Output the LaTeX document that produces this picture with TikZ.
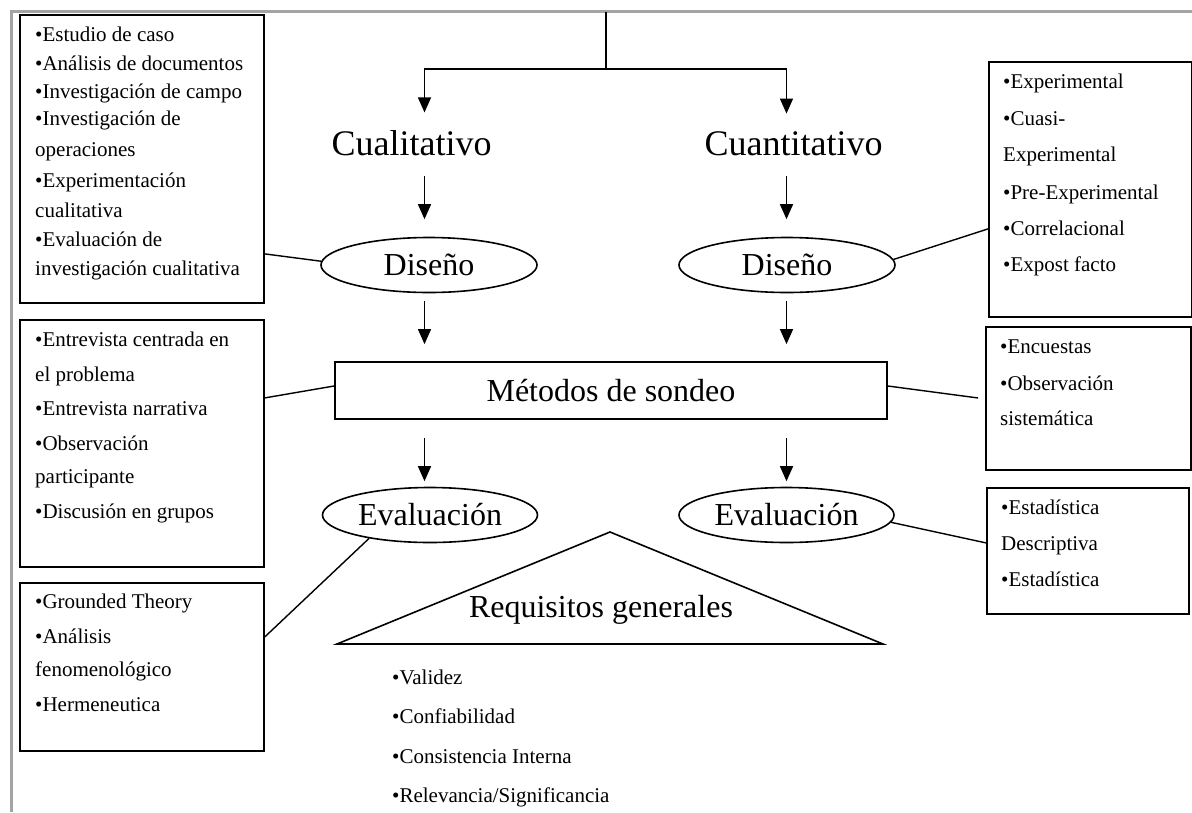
\documentclass[tikz,border=0pt]{standalone}
\usepackage{fontspec}
\setmainfont{Liberation Serif}
\usetikzlibrary{arrows.meta,shapes.geometric}
\begin{document}
\begin{tikzpicture}[x=1pt,y=-1pt,
  pageframe/.style={draw=black!36, line width=3pt},
  boxnode/.style={draw, line width=1.8pt, rectangle, inner sep=0pt, anchor=north west},
  rectnode/.style={draw, line width=1.8pt, rectangle, inner sep=0pt, minimum width=552pt, minimum height=57pt, font=\fontsize{32}{32}\selectfont},
  oval/.style={draw, ellipse, line width=1.6pt, inner sep=0pt, minimum width=216pt, minimum height=55pt, font=\fontsize{32}{32}\selectfont},
  bigtxt/.style={inner sep=0pt, anchor=base, font=\fontsize{36}{36}\selectfont},
  midtxt/.style={inner sep=0pt, anchor=base, font=\fontsize{32}{32}\selectfont},
  listtxt/.style={inner sep=0pt, anchor=base west, font=\fontsize{21}{21}\selectfont},
  conn/.style={line width=1.4pt},
  arr/.style={line width=1.4pt, -{Triangle[length=15pt,width=13pt]}}
]
\useasboundingbox (0,0) rectangle (1192,812);
\fill[white] (0,0) rectangle (1192,812);

% page frame
\draw[pageframe] (11,812) -- (11,11) -- (1192,11);

% boxes
\node[boxnode, minimum width=244pt, minimum height=288pt] (tl) at (19,14) {};
\node[boxnode, minimum width=203pt, minimum height=255pt] (tr) at (988,61) {};
\node[boxnode, minimum width=244pt, minimum height=247pt] (ml) at (19,319) {};
\node[boxnode, minimum width=205pt, minimum height=143pt] (mr) at (985,326) {};
\node[boxnode, minimum width=202pt, minimum height=126pt] (br) at (986,487) {};
\node[boxnode, minimum width=244pt, minimum height=168pt] (bl) at (19,582) {};

% box texts
\foreach \yy/\lbl in {41/{\textbullet Estudio de caso},70/{\textbullet Análisis de documentos},98/{\textbullet Investigación de campo},125/{\textbullet Investigación de},156/{operaciones},187/{\textbullet Experimentación},217/{cualitativa},246/{\textbullet Evaluación de},275/{investigación cualitativa}}
  \node[listtxt] at (35,\yy) {\lbl};
\foreach \yy/\lbl in {346/{\textbullet Entrevista centrada en},381/{el problema},415/{\textbullet Entrevista narrativa},450/{\textbullet Observación},483/{participante},518/{\textbullet Discusión en grupos}}
  \node[listtxt] at (35,\yy) {\lbl};
\foreach \yy/\lbl in {608/{\textbullet Grounded Theory},643/{\textbullet Análisis},676/{fenomenológico},711/{\textbullet Hermeneutica}}
  \node[listtxt] at (35,\yy) {\lbl};
\foreach \yy/\lbl in {88/{\textbullet Experimental},125/{\textbullet Cuasi-},161/{Experimental},199/{\textbullet Pre-Experimental},235/{\textbullet Correlacional},271/{\textbullet Expost facto}}
  \node[listtxt] at (1003,\yy) {\lbl};
\foreach \yy/\lbl in {353/{\textbullet Encuestas},390/{\textbullet Observación},425/{sistemática}}
  \node[listtxt] at (1000,\yy) {\lbl};
\foreach \yy/\lbl in {514/{\textbullet Estadística},550/{Descriptiva},586/{\textbullet Estadística}}
  \node[listtxt] at (1001,\yy) {\lbl};

% main nodes
\node[bigtxt] (cual) at (411.5,155) {Cualitativo};
\node[bigtxt] (cuan) at (793.5,155) {Cuantitativo};
\node[oval] (dl) at (429,265) {Diseño};
\node[oval] (dr) at (787,265) {Diseño};
\node[rectnode] (met) at (611,390.5) {Métodos de sondeo};
\node[oval, minimum width=215pt] (el) at (430,515) {Evaluación};
\node[oval, minimum width=215pt] (er) at (786.5,515) {Evaluación};

% triangle
\draw[line width=1.6pt] (337,644) -- (610,532) -- (883,644) -- cycle;
\node[midtxt] (req) at (601,617) {Requisitos generales};
\foreach \yy/\lbl in {684/{\textbullet Validez},723/{\textbullet Confiabilidad},763/{\textbullet Consistencia Interna},802/{\textbullet Relevancia/Significancia}}
  \node[listtxt] at (392,\yy) {\lbl};

% tree
\coordinate (top) at (606,12);
\coordinate (split) at (606,69);
\coordinate (L) at (424.5,0);
\coordinate (R) at (786.5,0);
\draw[conn] (top) -- (split);
\draw[arr, shorten >=17.4pt] (split) -| (L |- cual.north);
\draw[arr, shorten >=17.4pt] (split) -| (R |- cuan.north);

\draw[arr, shorten <=20pt, shorten >=17.5pt] (L |- cual.south) -- (L |- dl.north);
\draw[arr, shorten <=20pt, shorten >=17.5pt] (R |- cuan.south) -- (R |- dr.north);
\draw[arr, shorten <=7.5pt, shorten >=17pt] (L |- dl.south) -- (L |- met.north);
\draw[arr, shorten <=7.5pt, shorten >=17pt] (R |- dr.south) -- (R |- met.north);
\draw[arr, shorten <=18pt, shorten >=5.5pt] (L |- met.south) -- (L |- el.north);
\draw[arr, shorten <=18pt, shorten >=5.5pt] (R |- met.south) -- (R |- er.north);

% side connectors
\draw[conn] ([yshift=-95pt]tl.east) -- (dl.178);
\draw[conn] (dr.3) -- ([yshift=-39.5pt]tr.west);
\draw[conn] ([yshift=45.5pt]ml.east) -- ([yshift=4.5pt]met.west);
\draw[conn, shorten >=7pt] ([yshift=4.5pt]met.east) -- ([yshift=-0.5pt]mr.west);
\draw[conn] (el.201) -- ([yshift=30pt]bl.east);
\draw[conn] (er.-4) -- ([yshift=8pt]br.west);
\end{tikzpicture}
\end{document}
